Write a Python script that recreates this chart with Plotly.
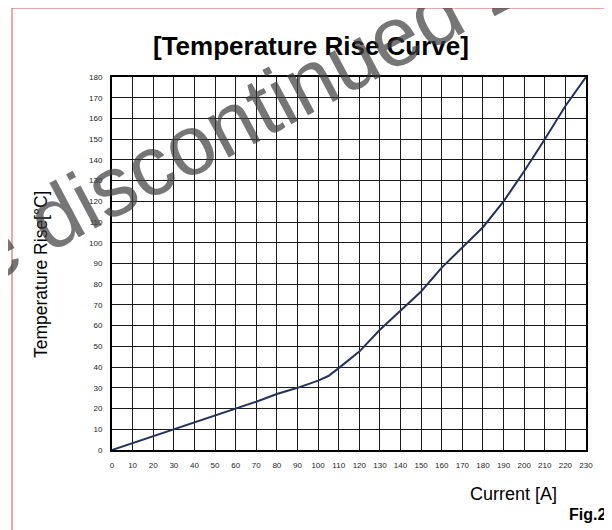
import plotly.graph_objects as go

# Data
current_a = [0, 10, 20, 30, 40, 50, 60, 70, 80, 90, 100, 105, 110, 115, 120,
             130, 140, 150, 160, 170, 180, 190, 200, 210, 220, 230]
temp_rise = [0, 3.3, 6.7, 10, 13.3, 16.7, 20, 23.3, 27, 30, 33.5, 35.7, 39.5, 43.5, 47.5,
             58, 67.5, 76.5, 88, 98, 107.5, 120, 134.5, 150, 166, 180]
x_ticks = list(range(0, 231, 10))
y_ticks = list(range(0, 181, 10))

OFF = 8  # page body margin offsets the figure in the window
W, H = 612 - OFF, 530 - OFF
# target plot-area edges in window pixels
L, R, T, B = 112, 586, 77, 450


def px(x):
    return (x - L) / (R - L)


def py(y):
    return (B - y) / (B - T)


fig = go.Figure()
fig.add_trace(go.Scatter(x=current_a, y=temp_rise, mode="lines",
                         line=dict(color="#24305e", width=2), hoverinfo="skip",
                         showlegend=False))

axis_common = dict(showgrid=True, gridcolor="#1a1a1a", gridwidth=1,
                   showline=True, linecolor="#000000", linewidth=2, mirror=True,
                   ticks="", zeroline=False,
                   tickfont=dict(family="Arial", size=8, color="#222222"))

fig.update_xaxes(range=[0, 230], tickvals=x_ticks, ticktext=[str(v) for v in x_ticks],
                 ticklabelstandoff=6, **axis_common)
fig.update_yaxes(range=[0, 180], tickvals=y_ticks, ticktext=[str(v) for v in y_ticks],
                 ticklabelstandoff=6, **axis_common)

annotations = [
    dict(text="<b>[Temperature Rise Curve]</b>", x=px(311), y=py(46),
         font=dict(family="Arial", size=26, color="#000000")),
    dict(text="Temperature Rise[°C]", x=px(41), y=py(275), textangle=-90,
         font=dict(family="Arial", size=17.5, color="#000000")),
    dict(text="Current [A]", x=px(513), y=py(494),
         font=dict(family="Arial", size=18, color="#000000")),
    dict(text="<b>Fig.2</b>", x=px(587), y=py(515),
         font=dict(family="Arial", size=16, color="#000000")),
    dict(text="e discontinued 2", x=px(245), y=py(116), textangle=-28,
         font=dict(family="Arial", size=85, color="rgba(60,60,60,0.7)")),
]
for a in annotations:
    a.update(xref="paper", yref="paper", showarrow=False,
             xanchor="center", yanchor="middle")

fig.update_layout(
    width=W, height=H,
    margin=dict(l=L - OFF, r=(W + OFF) - R, t=T - OFF, b=(H + OFF) - B),
    paper_bgcolor="white", plot_bgcolor="white",
    annotations=annotations,
    shapes=[dict(type="path", xref="paper", yref="paper",
                 path=f"M {px(12)} {py(545)} L {px(12)} {py(8)} L {px(625)} {py(8)}",
                 line=dict(color="#d9534f", width=1))],
)

fig.write_html("out.html")
